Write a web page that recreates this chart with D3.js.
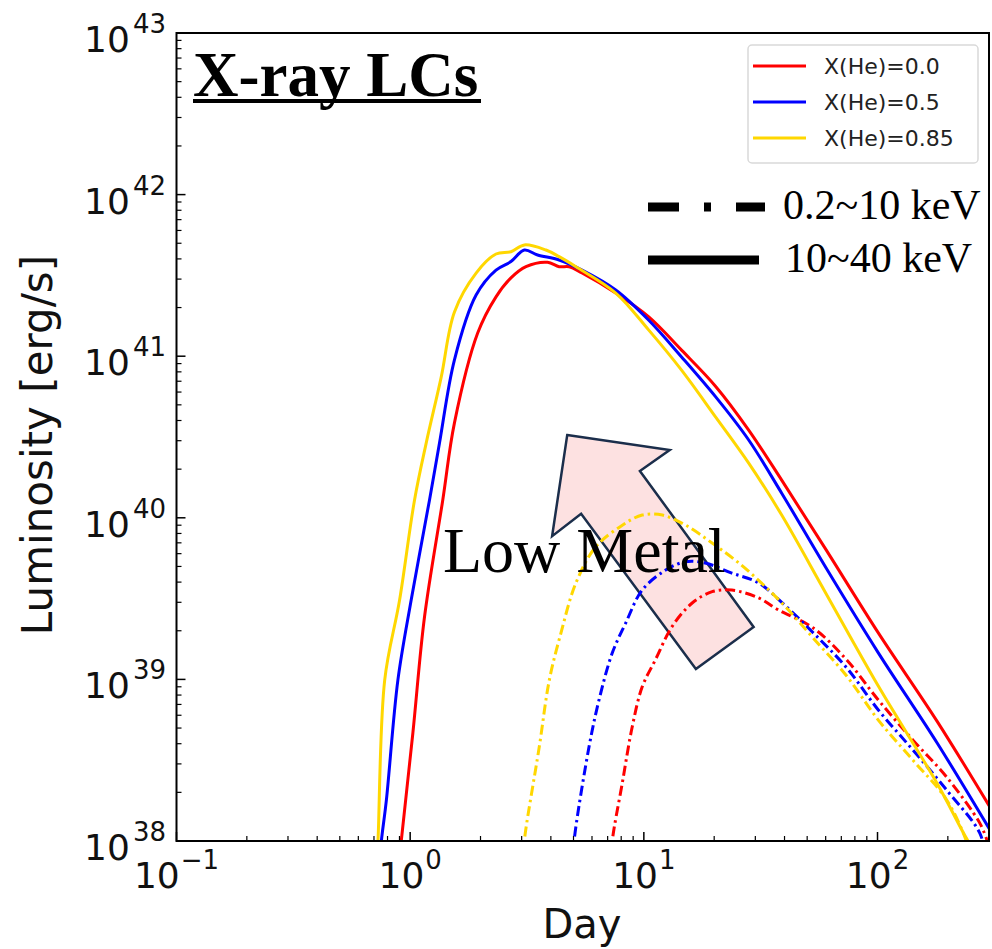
<!DOCTYPE html>
<html>
<head>
<meta charset="utf-8">
<script src="https://cdn.jsdelivr.net/npm/d3@7"></script>
<style>
  body { margin: 0; background: #fff; }
  svg { display: block; }
</style>
</head>
<body>
<svg id="chart" width="992" height="949"></svg>
<script>
// ---- data (day, luminosity erg/s) ----
// 10~40 keV (solid)
const hardHe000 = [[0.905,8e37],[0.916,1.0e38],[1.027,4.66e38],[1.152,2.44e39],[1.379,1.29e40],[1.547,3.87e40],[1.945,1.39e41],[2.33,2.33e41],[2.70,3.05e41],[3.13,3.58e41],[3.87,3.81e41],[4.34,3.58e41],[4.79,3.58e41],[5.44,3.27e41],[7.58,2.46e41],[10.5,1.75e41],[14.5,1.09e41],[20.3,6.5e40],[28.1,3.49e40],[38.9,1.71e40],[60,6.4e39],[100.8,1.94e39],[180,5.5e38],[303,1.62e38]]
const hardHe050 = [[0.745,8e37],[0.753,1.0e38],[0.791,1.79e38],[0.886,9.9e38],[1.01,3.1e39],[1.21,1.29e40],[1.335,2.9e40],[1.547,9.5e40],[1.915,2.39e41],[2.33,3.41e41],[2.70,3.85e41],[3.08,4.54e41],[3.51,4.23e41],[4.34,3.94e41],[5.44,3.41e41],[7.58,2.57e41],[10.5,1.67e41],[14.5,9.9e40],[20.3,5.6e40],[28.1,3.03e40],[38.9,1.42e40],[60,4.94e39],[100.8,1.46e39],[180,4.04e38],[303,1.17e38]]
const hardHe085 = [[0.72,8.2e37],[0.728,1.0e38],[0.778,9.9e38],[0.901,3.1e39],[1.044,1.29e40],[1.171,2.9e40],[1.357,7.4e40],[1.547,1.88e41],[1.915,3.27e41],[2.33,4.29e41],[2.70,4.43e41],[3.08,4.88e41],[3.81,4.54e41],[4.34,4.13e41],[5.12,3.58e41],[7.58,2.46e41],[10.5,1.45e41],[14.5,8.2e40],[20.3,4.2e40],[28.1,2.18e40],[38.9,1.04e40],[60,3.43e39],[100.8,9.1e38],[180,2.27e38],[244,1.0e38],[269,8.2e37]]
// 0.2~10 keV (dash-dot)
const softHe000 = [[7.3,8e37],[7.33,1.0e38],[8.09,2.29e38],[8.92,5.09e38],[9.84,9.0e38],[11.2,1.32e39],[13.2,2.12e39],[16.1,2.97e39],[19.6,3.49e39],[23.8,3.57e39],[31.0,3.19e39],[37.7,2.69e39],[53.1,2.08e39],[73.8,1.32e39],[100.8,7.46e38],[141.6,4.22e38],[197.5,2.49e38],[274,1.29e38],[295,1.0e38]]
const softHe050 = [[5.0,8e37],[5.03,1.0e38],[5.83,3.84e38],[6.43,7.46e38],[7.33,1.46e39],[8.36,2.23e39],[9.84,3.57e39],[12.4,4.75e39],[15.1,5.35e39],[18.3,5.25e39],[23.8,4.55e39],[31.0,3.95e39],[38.9,3.0e39],[53.1,1.94e39],[73.8,1.18e39],[100.8,6.47e38],[141.6,3.66e38],[197.5,2.07e38],[274,1.12e38],[290,8e37]]
const softHe085 = [[3.06,8e37],[3.08,1.0e38],[3.57,3.84e38],[3.94,9.9e38],[4.42,1.94e39],[5.12,3.95e39],[6.23,6.62e39],[8.09,9.0e39],[9.84,1.04e40],[12.0,1.04e40],[15.1,9.0e39],[19.6,6.98e39],[25.5,5.25e39],[33.1,3.75e39],[41.6,2.69e39],[53.1,1.8e39],[73.8,1.05e39],[100.8,5.6e38],[141.6,3.17e38],[197.5,1.8e38],[240,1.0e38],[250,8e37]]

const seriesNames = ['X(He)=0.0', 'X(He)=0.5', 'X(He)=0.85']
const seriesColors = ['#ff0000', '#0000ff', '#ffd700']
const bandLabels = ['0.2~10 keV', '10~40 keV']

const xTicks = [0.1, 1, 10, 100]
const yTicks = [1e38, 1e39, 1e40, 1e41, 1e42, 1e43]

// "Low Metal" arrow outline, in data units
const arrowPts = [[4.70,3.25e40],[12.9,2.63e40],[9.62,1.95e40],[29.5,2.11e39],[16.7,1.16e39],[5.39,1.06e40],[4.05,7.7e39]]

// ---- layout ----
const margin = { top: 33, right: 3, bottom: 108, left: 176.5 }
const width = 992
const height = 949

const x = d3.scaleLog().domain([0.1, 300]).range([margin.left, width - margin.right])
const y = d3.scaleLog().domain([1e38, 1e43]).range([height - margin.bottom, margin.top])

const svg = d3.select('#chart')

svg.append('defs').append('clipPath').attr('id', 'plotClip')
  .append('rect')
  .attr('x', x.range()[0]).attr('y', y.range()[1])
  .attr('width', x.range()[1] - x.range()[0])
  .attr('height', y.range()[0] - y.range()[1])

// arrow (under the curves)
svg.append('polygon')
  .attr('points', arrowPts.map((d) => [x(d[0]), y(d[1])].join(',')).join(' '))
  .attr('fill', '#fde1e1')
  .attr('stroke', '#1b2e4b')
  .attr('stroke-width', 2.5)
  .attr('stroke-linejoin', 'miter')

const line = d3.line()
  .x((d) => x(d[0]))
  .y((d) => y(d[1]))
  .curve(d3.curveCatmullRom.alpha(0.5))

const curves = svg.append('g').attr('clip-path', 'url(#plotClip)')

const soft = [softHe000, softHe050, softHe085]
const hard = [hardHe000, hardHe050, hardHe085]

soft.forEach((s, i) => {
  curves.append('path')
    .attr('d', line(s))
    .attr('fill', 'none')
    .attr('stroke', seriesColors[i])
    .attr('stroke-width', 3)
    .attr('stroke-dasharray', '10,4,2.5,4')
})
hard.forEach((s, i) => {
  curves.append('path')
    .attr('d', line(s))
    .attr('fill', 'none')
    .attr('stroke', seriesColors[i])
    .attr('stroke-width', 3)
    .attr('stroke-linejoin', 'round')
})

// ticks (inward)
const minorOf = (lo, hi) => {
  const out = []
  for (let e = lo; e < hi; e++) for (let m = 2; m <= 9; m++) out.push(m * Math.pow(10, e))
  return out
}
const xMinor = minorOf(-1, 3).filter((v) => v < 300)
const yMinor = minorOf(38, 43)

const bottomY = y.range()[0]
const leftX = x.range()[0]

const axisG = svg.append('g').attr('stroke', '#000')
axisG.selectAll('.xmaj').data(xTicks).join('line')
  .attr('x1', (d) => x(d)).attr('x2', (d) => x(d))
  .attr('y1', bottomY).attr('y2', bottomY - 9).attr('stroke-width', 1.5)
axisG.selectAll('.xmin').data(xMinor).join('line')
  .attr('x1', (d) => x(d)).attr('x2', (d) => x(d))
  .attr('y1', bottomY).attr('y2', bottomY - 5).attr('stroke-width', 1.2)
axisG.selectAll('.ymaj').data(yTicks).join('line')
  .attr('y1', (d) => y(d)).attr('y2', (d) => y(d))
  .attr('x1', leftX).attr('x2', leftX + 9).attr('stroke-width', 1.5)
axisG.selectAll('.ymin').data(yMinor).join('line')
  .attr('y1', (d) => y(d)).attr('y2', (d) => y(d))
  .attr('x1', leftX).attr('x2', leftX + 5).attr('stroke-width', 1.2)

// frame
svg.append('rect')
  .attr('x', x.range()[0]).attr('y', y.range()[1])
  .attr('width', x.range()[1] - x.range()[0])
  .attr('height', y.range()[0] - y.range()[1])
  .attr('fill', 'none').attr('stroke', '#000').attr('stroke-width', 2)

// tick labels as 10^n
const tickFont = 'DejaVu Sans, sans-serif'
const expText = (v) => {
  const e = Math.round(Math.log10(v))
  return e < 0 ? '\u2212' + Math.abs(e) : String(e)
}

const xLab = svg.append('g').attr('font-family', tickFont).attr('fill', '#111')
xTicks.forEach((v) => {
  const t = xLab.append('text')
    .attr('x', x(v)).attr('y', 888)
    .attr('text-anchor', 'middle')
  t.append('tspan').attr('font-size', 36).text('10')
  t.append('tspan').attr('font-size', 26).attr('dx', 1).attr('dy', -19).text(expText(v))
})

const yLab = svg.append('g').attr('font-family', tickFont).attr('fill', '#111')
yTicks.forEach((v) => {
  const t = yLab.append('text')
    .attr('x', 166).attr('y', y(v) + 19)
    .attr('text-anchor', 'end')
  t.append('tspan').attr('font-size', 36).text('10')
  t.append('tspan').attr('font-size', 26).attr('dx', 3).attr('dy', -19).text(expText(v))
})

// axis titles
svg.append('text')
  .attr('x', 582).attr('y', 938)
  .attr('text-anchor', 'middle')
  .attr('font-family', tickFont).attr('font-size', 40).attr('fill', '#111')
  .text('Day')

svg.append('text')
  .attr('transform', 'translate(52,445) rotate(-90)')
  .attr('text-anchor', 'middle')
  .attr('font-family', tickFont).attr('font-size', 42).attr('fill', '#111')
  .text('Luminosity [erg/s]')

// title
const serif = "'Liberation Serif', 'Times New Roman', serif"
svg.append('text')
  .attr('x', 193).attr('y', 96)
  .attr('font-family', serif).attr('font-size', 63).attr('font-weight', 'bold')
  .attr('fill', '#000')
  .text('X-ray LCs')
svg.append('rect')
  .attr('x', 193).attr('y', 99).attr('width', 288).attr('height', 4).attr('fill', '#000')

// colour legend
const lg = svg.append('g')
lg.append('rect')
  .attr('x', 748).attr('y', 45).attr('width', 230).attr('height', 118).attr('rx', 4)
  .attr('fill', '#fff').attr('stroke', '#d9d9d9').attr('stroke-width', 1.5)
seriesNames.forEach((name, i) => {
  const ly = 66 + i * 36
  lg.append('line')
    .attr('x1', 753).attr('x2', 806).attr('y1', ly).attr('y2', ly)
    .attr('stroke', seriesColors[i]).attr('stroke-width', 3)
  lg.append('text')
    .attr('x', 824).attr('y', ly + 8)
    .attr('font-family', tickFont).attr('font-size', 22).attr('fill', '#222')
    .text(name)
})

// band legend
const bl = svg.append('g')
bl.append('line')
  .attr('x1', 648).attr('x2', 765).attr('y1', 207).attr('y2', 207)
  .attr('stroke', '#000').attr('stroke-width', 9)
  .attr('stroke-dasharray', '31,25,7,25')
bl.append('line')
  .attr('x1', 648).attr('x2', 759).attr('y1', 260).attr('y2', 260)
  .attr('stroke', '#000').attr('stroke-width', 9)
bl.append('text')
  .attr('x', 783).attr('y', 219)
  .attr('font-family', serif).attr('font-size', 42).attr('fill', '#000')
  .text(bandLabels[0])
bl.append('text')
  .attr('x', 785).attr('y', 272)
  .attr('font-family', serif).attr('font-size', 42).attr('fill', '#000')
  .text(bandLabels[1])

// annotation text
svg.append('text')
  .attr('x', 443).attr('y', 572)
  .attr('font-family', serif).attr('font-size', 64).attr('fill', '#000')
  .text('Low Metal')
</script>
</body>
</html>
